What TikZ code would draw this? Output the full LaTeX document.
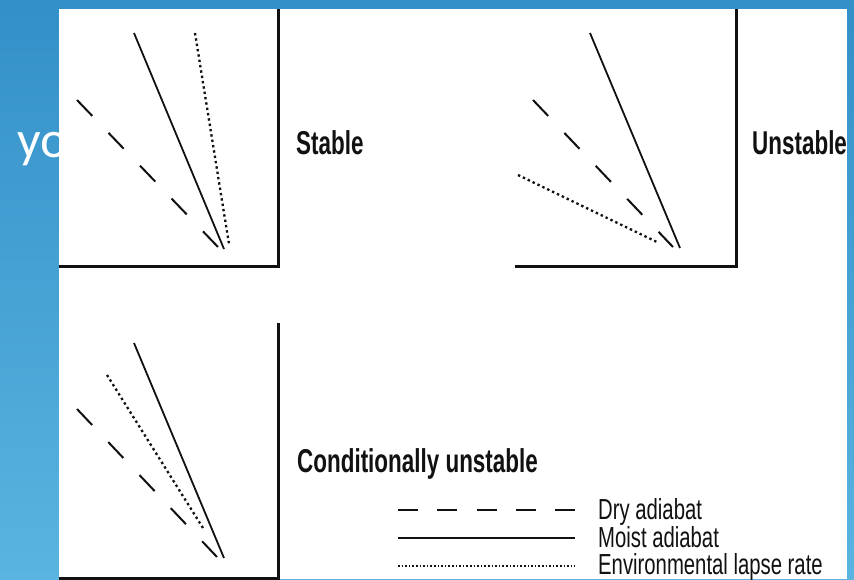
\documentclass[tikz,border=0pt]{standalone}
\usepackage{fontspec}
\newfontfamily\titlefont[FakeStretch=0.68]{Liberation Sans}
\newfontfamily\keyfont[FakeStretch=0.70]{Liberation Sans}
\newfontfamily\slidefont{Carlito}
\usetikzlibrary{positioning}
\definecolor{slidetop}{HTML}{3390C8}
\definecolor{slidebot}{HTML}{5AB4E0}
\definecolor{inkblack}{HTML}{111111}
\tikzset{
  framerule/.style={draw=inkblack, line width=3pt},
  dryline/.style={draw=inkblack, line width=2pt, dash pattern=on 22pt off 23.5pt},
  moistline/.style={draw=inkblack, line width=1.8pt},
  envline/.style={draw=inkblack, line width=2.3pt, dash pattern=on 2.4pt off 3pt},
  keydry/.style={draw=inkblack, line width=2.2pt, dash pattern=on 20pt off 19.25pt},
  keyenv/.style={draw=inkblack, line width=1.6pt, dash pattern=on 1.6pt off 2pt},
  titlelabel/.style={anchor=base west, inner sep=0pt, text=inkblack,
    font=\titlefont\bfseries\fontsize{33}{38}\selectfont},
  keylabel/.style={anchor=base west, inner sep=0pt, text=inkblack,
    font=\keyfont\fontsize{29}{34}\selectfont},
}

\begin{document}
\begin{tikzpicture}[x=1pt, y=-1pt]
\useasboundingbox (0,0) rectangle (854,579);

% ── Slide background ──
\shade[top color=slidetop, bottom color=slidebot] (0,0) rectangle (854,579);
\node[anchor=base west, inner sep=0pt, text=white,
  font=\slidefont\fontsize{52}{60}\selectfont] (slidetext) at (17,157) {yo};
\fill[white] (59,9) rectangle (847,579);

% ── Stable ──
\draw[framerule] (59,266) -- (278,266) -- (278,9);
\draw[dryline] (77,100) -- (218,247);
\draw[moistline] (134,33) -- (224,249);
\draw[envline] (195,33) -- (229,244);
\node[titlelabel] (stable) at (296,154) {Stable};

% ── Unstable ──
\draw[framerule] (515,266) -- (736,266) -- (736,9);
\draw[dryline] (533,100) -- (673,247);
\draw[moistline] (590,33) -- (680,248);
\draw[envline] (518,175) -- (659,243);
\node[titlelabel] (unstable) at (752,154) {Unstable};

% ── Conditionally unstable ──
\draw[framerule] (59,578) -- (278,578) -- (278,323);
\draw[dryline] (77,409) -- (217,557);
\draw[moistline] (134,343) -- (224,558);
\draw[envline] (107,375) -- (203,528);
\node[titlelabel] (cond) at (297,472) {Conditionally unstable};

% ── Key ──
\draw[keydry] (398,510) -- (575,510);
\draw[moistline, line width=2.2pt] (398,538) -- (575,538);
\draw[keyenv] (398,566) -- (575,566);
\node[keylabel] (drykey) at (598,519) {Dry adiabat};
\node[keylabel] (moistkey) at (598,547) {Moist adiabat};
\node[keylabel] (envkey) at (598,574) {Environmental lapse rate};

\end{tikzpicture}
\end{document}
